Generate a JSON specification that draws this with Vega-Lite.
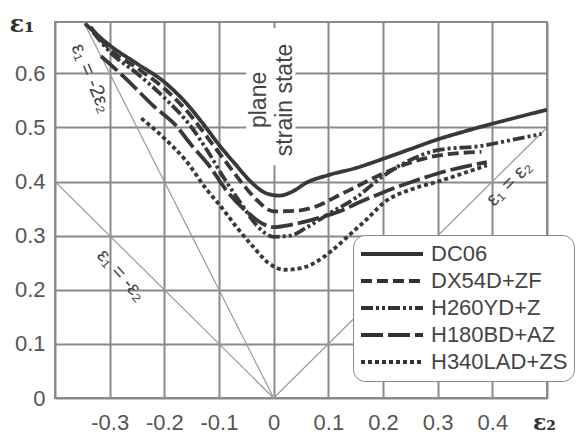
{
  "$schema": "https://vega.github.io/schema/vega-lite/v6.json",
  "width": 492,
  "height": 376,
  "autosize": {"type": "none"},
  "padding": {"left": 55, "top": 22, "right": 30, "bottom": 38},
  "background": "white",
  "config": {
    "view": {"stroke": "#8a8a8a", "strokeWidth": 2},
    "axis": {
      "grid": true, "gridColor": "#8a8a8a", "gridWidth": 2, "gridOpacity": 1,
      "domain": false, "ticks": false,
      "labelFont": "Liberation Sans", "labelFontSize": 22, "labelColor": "#555",
      "titleFont": "DejaVu Serif", "titleFontWeight": "bold", "titleFontSize": 24, "titleColor": "#333"
    },
    "text": {"font": "Liberation Sans", "color": "#444"}
  },
  "datasets": {
    "curves": [
      {"s": "DC06", "x": -0.345, "y": 0.692}, {"s": "DC06", "x": -0.3, "y": 0.652}, {"s": "DC06", "x": -0.25, "y": 0.618},
      {"s": "DC06", "x": -0.2, "y": 0.584}, {"s": "DC06", "x": -0.16, "y": 0.545}, {"s": "DC06", "x": -0.13, "y": 0.508},
      {"s": "DC06", "x": -0.1, "y": 0.468}, {"s": "DC06", "x": -0.07, "y": 0.432}, {"s": "DC06", "x": -0.04, "y": 0.398},
      {"s": "DC06", "x": -0.015, "y": 0.379}, {"s": "DC06", "x": 0.01, "y": 0.374}, {"s": "DC06", "x": 0.035, "y": 0.382},
      {"s": "DC06", "x": 0.06, "y": 0.398}, {"s": "DC06", "x": 0.1, "y": 0.412}, {"s": "DC06", "x": 0.15, "y": 0.425},
      {"s": "DC06", "x": 0.2, "y": 0.442}, {"s": "DC06", "x": 0.25, "y": 0.46}, {"s": "DC06", "x": 0.3, "y": 0.478},
      {"s": "DC06", "x": 0.35, "y": 0.493}, {"s": "DC06", "x": 0.4, "y": 0.507}, {"s": "DC06", "x": 0.45, "y": 0.52},
      {"s": "DC06", "x": 0.5, "y": 0.533},

      {"s": "DX54D+ZF", "x": -0.335, "y": 0.686}, {"s": "DX54D+ZF", "x": -0.3, "y": 0.645}, {"s": "DX54D+ZF", "x": -0.25, "y": 0.61},
      {"s": "DX54D+ZF", "x": -0.2, "y": 0.572}, {"s": "DX54D+ZF", "x": -0.15, "y": 0.52}, {"s": "DX54D+ZF", "x": -0.12, "y": 0.48},
      {"s": "DX54D+ZF", "x": -0.09, "y": 0.44}, {"s": "DX54D+ZF", "x": -0.06, "y": 0.4}, {"s": "DX54D+ZF", "x": -0.03, "y": 0.365},
      {"s": "DX54D+ZF", "x": 0, "y": 0.345}, {"s": "DX54D+ZF", "x": 0.04, "y": 0.346}, {"s": "DX54D+ZF", "x": 0.08, "y": 0.355},
      {"s": "DX54D+ZF", "x": 0.12, "y": 0.375}, {"s": "DX54D+ZF", "x": 0.16, "y": 0.395}, {"s": "DX54D+ZF", "x": 0.2, "y": 0.415},
      {"s": "DX54D+ZF", "x": 0.25, "y": 0.435}, {"s": "DX54D+ZF", "x": 0.3, "y": 0.448}, {"s": "DX54D+ZF", "x": 0.38, "y": 0.455},

      {"s": "H260YD+Z", "x": -0.33, "y": 0.676}, {"s": "H260YD+Z", "x": -0.3, "y": 0.64}, {"s": "H260YD+Z", "x": -0.25, "y": 0.6},
      {"s": "H260YD+Z", "x": -0.2, "y": 0.555}, {"s": "H260YD+Z", "x": -0.15, "y": 0.5}, {"s": "H260YD+Z", "x": -0.12, "y": 0.455},
      {"s": "H260YD+Z", "x": -0.09, "y": 0.405}, {"s": "H260YD+Z", "x": -0.06, "y": 0.36}, {"s": "H260YD+Z", "x": -0.03, "y": 0.318},
      {"s": "H260YD+Z", "x": 0, "y": 0.298}, {"s": "H260YD+Z", "x": 0.03, "y": 0.3}, {"s": "H260YD+Z", "x": 0.06, "y": 0.315},
      {"s": "H260YD+Z", "x": 0.1, "y": 0.34}, {"s": "H260YD+Z", "x": 0.15, "y": 0.37}, {"s": "H260YD+Z", "x": 0.2, "y": 0.41},
      {"s": "H260YD+Z", "x": 0.25, "y": 0.44}, {"s": "H260YD+Z", "x": 0.3, "y": 0.458}, {"s": "H260YD+Z", "x": 0.38, "y": 0.466},
      {"s": "H260YD+Z", "x": 0.44, "y": 0.478}, {"s": "H260YD+Z", "x": 0.49, "y": 0.488},

      {"s": "H180BD+AZ", "x": -0.316, "y": 0.632}, {"s": "H180BD+AZ", "x": -0.27, "y": 0.59}, {"s": "H180BD+AZ", "x": -0.22, "y": 0.54},
      {"s": "H180BD+AZ", "x": -0.18, "y": 0.505}, {"s": "H180BD+AZ", "x": -0.15, "y": 0.467}, {"s": "H180BD+AZ", "x": -0.12, "y": 0.432},
      {"s": "H180BD+AZ", "x": -0.085, "y": 0.382}, {"s": "H180BD+AZ", "x": -0.05, "y": 0.345}, {"s": "H180BD+AZ", "x": -0.02, "y": 0.322},
      {"s": "H180BD+AZ", "x": 0, "y": 0.316}, {"s": "H180BD+AZ", "x": 0.04, "y": 0.322}, {"s": "H180BD+AZ", "x": 0.08, "y": 0.332},
      {"s": "H180BD+AZ", "x": 0.12, "y": 0.345}, {"s": "H180BD+AZ", "x": 0.16, "y": 0.363}, {"s": "H180BD+AZ", "x": 0.2, "y": 0.38},
      {"s": "H180BD+AZ", "x": 0.26, "y": 0.402}, {"s": "H180BD+AZ", "x": 0.3, "y": 0.415}, {"s": "H180BD+AZ", "x": 0.39, "y": 0.436},

      {"s": "H340LAD+ZS", "x": -0.242, "y": 0.517}, {"s": "H340LAD+ZS", "x": -0.2, "y": 0.48}, {"s": "H340LAD+ZS", "x": -0.16, "y": 0.438},
      {"s": "H340LAD+ZS", "x": -0.123, "y": 0.386}, {"s": "H340LAD+ZS", "x": -0.095, "y": 0.352}, {"s": "H340LAD+ZS", "x": -0.068, "y": 0.316},
      {"s": "H340LAD+ZS", "x": -0.037, "y": 0.279}, {"s": "H340LAD+ZS", "x": -0.01, "y": 0.25}, {"s": "H340LAD+ZS", "x": 0.02, "y": 0.237},
      {"s": "H340LAD+ZS", "x": 0.05, "y": 0.24}, {"s": "H340LAD+ZS", "x": 0.075, "y": 0.25}, {"s": "H340LAD+ZS", "x": 0.106, "y": 0.272},
      {"s": "H340LAD+ZS", "x": 0.137, "y": 0.3}, {"s": "H340LAD+ZS", "x": 0.17, "y": 0.33}, {"s": "H340LAD+ZS", "x": 0.204, "y": 0.363},
      {"s": "H340LAD+ZS", "x": 0.25, "y": 0.385}, {"s": "H340LAD+ZS", "x": 0.3, "y": 0.4}, {"s": "H340LAD+ZS", "x": 0.39, "y": 0.43}
    ],
    "refs": [
      {"id": "m2", "x": 0, "y": 0}, {"id": "m2", "x": -0.3475, "y": 0.695},
      {"id": "m1", "x": 0, "y": 0}, {"id": "m1", "x": -0.4, "y": 0.4},
      {"id": "p1", "x": 0, "y": 0}, {"id": "p1", "x": 0.5, "y": 0.5}
    ]
  },
  "encoding": {
    "x": {
      "field": "x", "type": "quantitative",
      "scale": {"domain": [-0.4, 0.5], "nice": false, "zero": false},
      "axis": {
        "values": [-0.4, -0.3, -0.2, -0.1, 0, 0.1, 0.2, 0.3, 0.4, 0.5],
        "labelExpr": "datum.value < -0.35 || datum.value > 0.45 ? '' : '' + datum.value",
        "labelPadding": 14,
        "title": "ε₂", "titleAngle": 0, "titleX": 489, "titleY": 24, "titleFontSize": 22,
        "titleAlign": "center", "titleBaseline": "middle"
      }
    },
    "y": {
      "field": "y", "type": "quantitative",
      "scale": {"domain": [0, 0.695], "nice": false, "zero": false},
      "axis": {
        "values": [0, 0.1, 0.2, 0.3, 0.4, 0.5, 0.6],
        "labelExpr": "'' + datum.value",
        "labelPadding": 10,
        "title": "ε₁", "titleAngle": 0, "titleX": -46, "titleY": 2,
        "titleAlign": "left", "titleBaseline": "middle"
      }
    }
  },
  "layer": [
    {
      "data": {"name": "refs"},
      "mark": {"type": "line", "color": "#999", "strokeWidth": 1.2},
      "encoding": {"detail": {"field": "id"}}
    },
    {
      "data": {"values": [{"x": -0.05, "x2": 0.04, "y": 0.43, "y2": 0.684}]},
      "mark": {"type": "rect", "fill": "white"},
      "encoding": {"x2": {"field": "x2"}, "y2": {"field": "y2"}}
    },
    {
      "data": {"name": "curves"},
      "mark": {"type": "line", "color": "#383838", "strokeWidth": 3.8, "interpolate": "monotone"},
      "encoding": {
        "strokeDash": {
          "field": "s", "type": "nominal",
          "scale": {
            "domain": ["DC06", "DX54D+ZF", "H260YD+Z", "H180BD+AZ", "H340LAD+ZS"],
            "range": [[1, 0], [11, 5], [12, 3, 3, 3, 3, 3], [22, 5], [4, 3]]
          },
          "legend": {
            "title": null, "orient": "none", "legendX": 298, "legendY": 213,
            "fillColor": "white", "strokeColor": "#8a8a8a", "cornerRadius": 12,
            "padding": 6, "symbolType": "stroke", "symbolSize": 3844, "symbolStrokeWidth": 4,
            "symbolStrokeColor": "#333", "clipHeight": 26, "rowPadding": 1, "labelOffset": 6,
            "labelFont": "Liberation Sans", "labelFontSize": 22, "labelColor": "#444", "labelLimit": 300
          }
        }
      }
    },
    {
      "data": {"values": [{"x": -0.026, "y": 0.551, "t": "plane"}, {"x": 0.02, "y": 0.551, "t": "strain state"}]},
      "mark": {"type": "text", "angle": 270, "fontSize": 23, "align": "center", "baseline": "middle"},
      "encoding": {"text": {"field": "t"}}
    },
    {
      "data": {"values": [{"x": -0.334, "y": 0.591, "t": "ε₁ = -2ε₂"}]},
      "mark": {"type": "text", "angle": 67, "fontSize": 20, "align": "center", "baseline": "middle"},
      "encoding": {"text": {"field": "t"}}
    },
    {
      "data": {"values": [{"x": -0.279, "y": 0.227, "t": "ε₁ = -ε₂"}]},
      "mark": {"type": "text", "angle": 48, "fontSize": 20, "align": "center", "baseline": "middle"},
      "encoding": {"text": {"field": "t"}}
    },
    {
      "data": {"values": [{"x": 0.431, "y": 0.397, "t": "ε₁ = ε₂"}]},
      "mark": {"type": "text", "angle": 315, "fontSize": 20, "align": "center", "baseline": "middle"},
      "encoding": {"text": {"field": "t"}}
    }
  ]
}
